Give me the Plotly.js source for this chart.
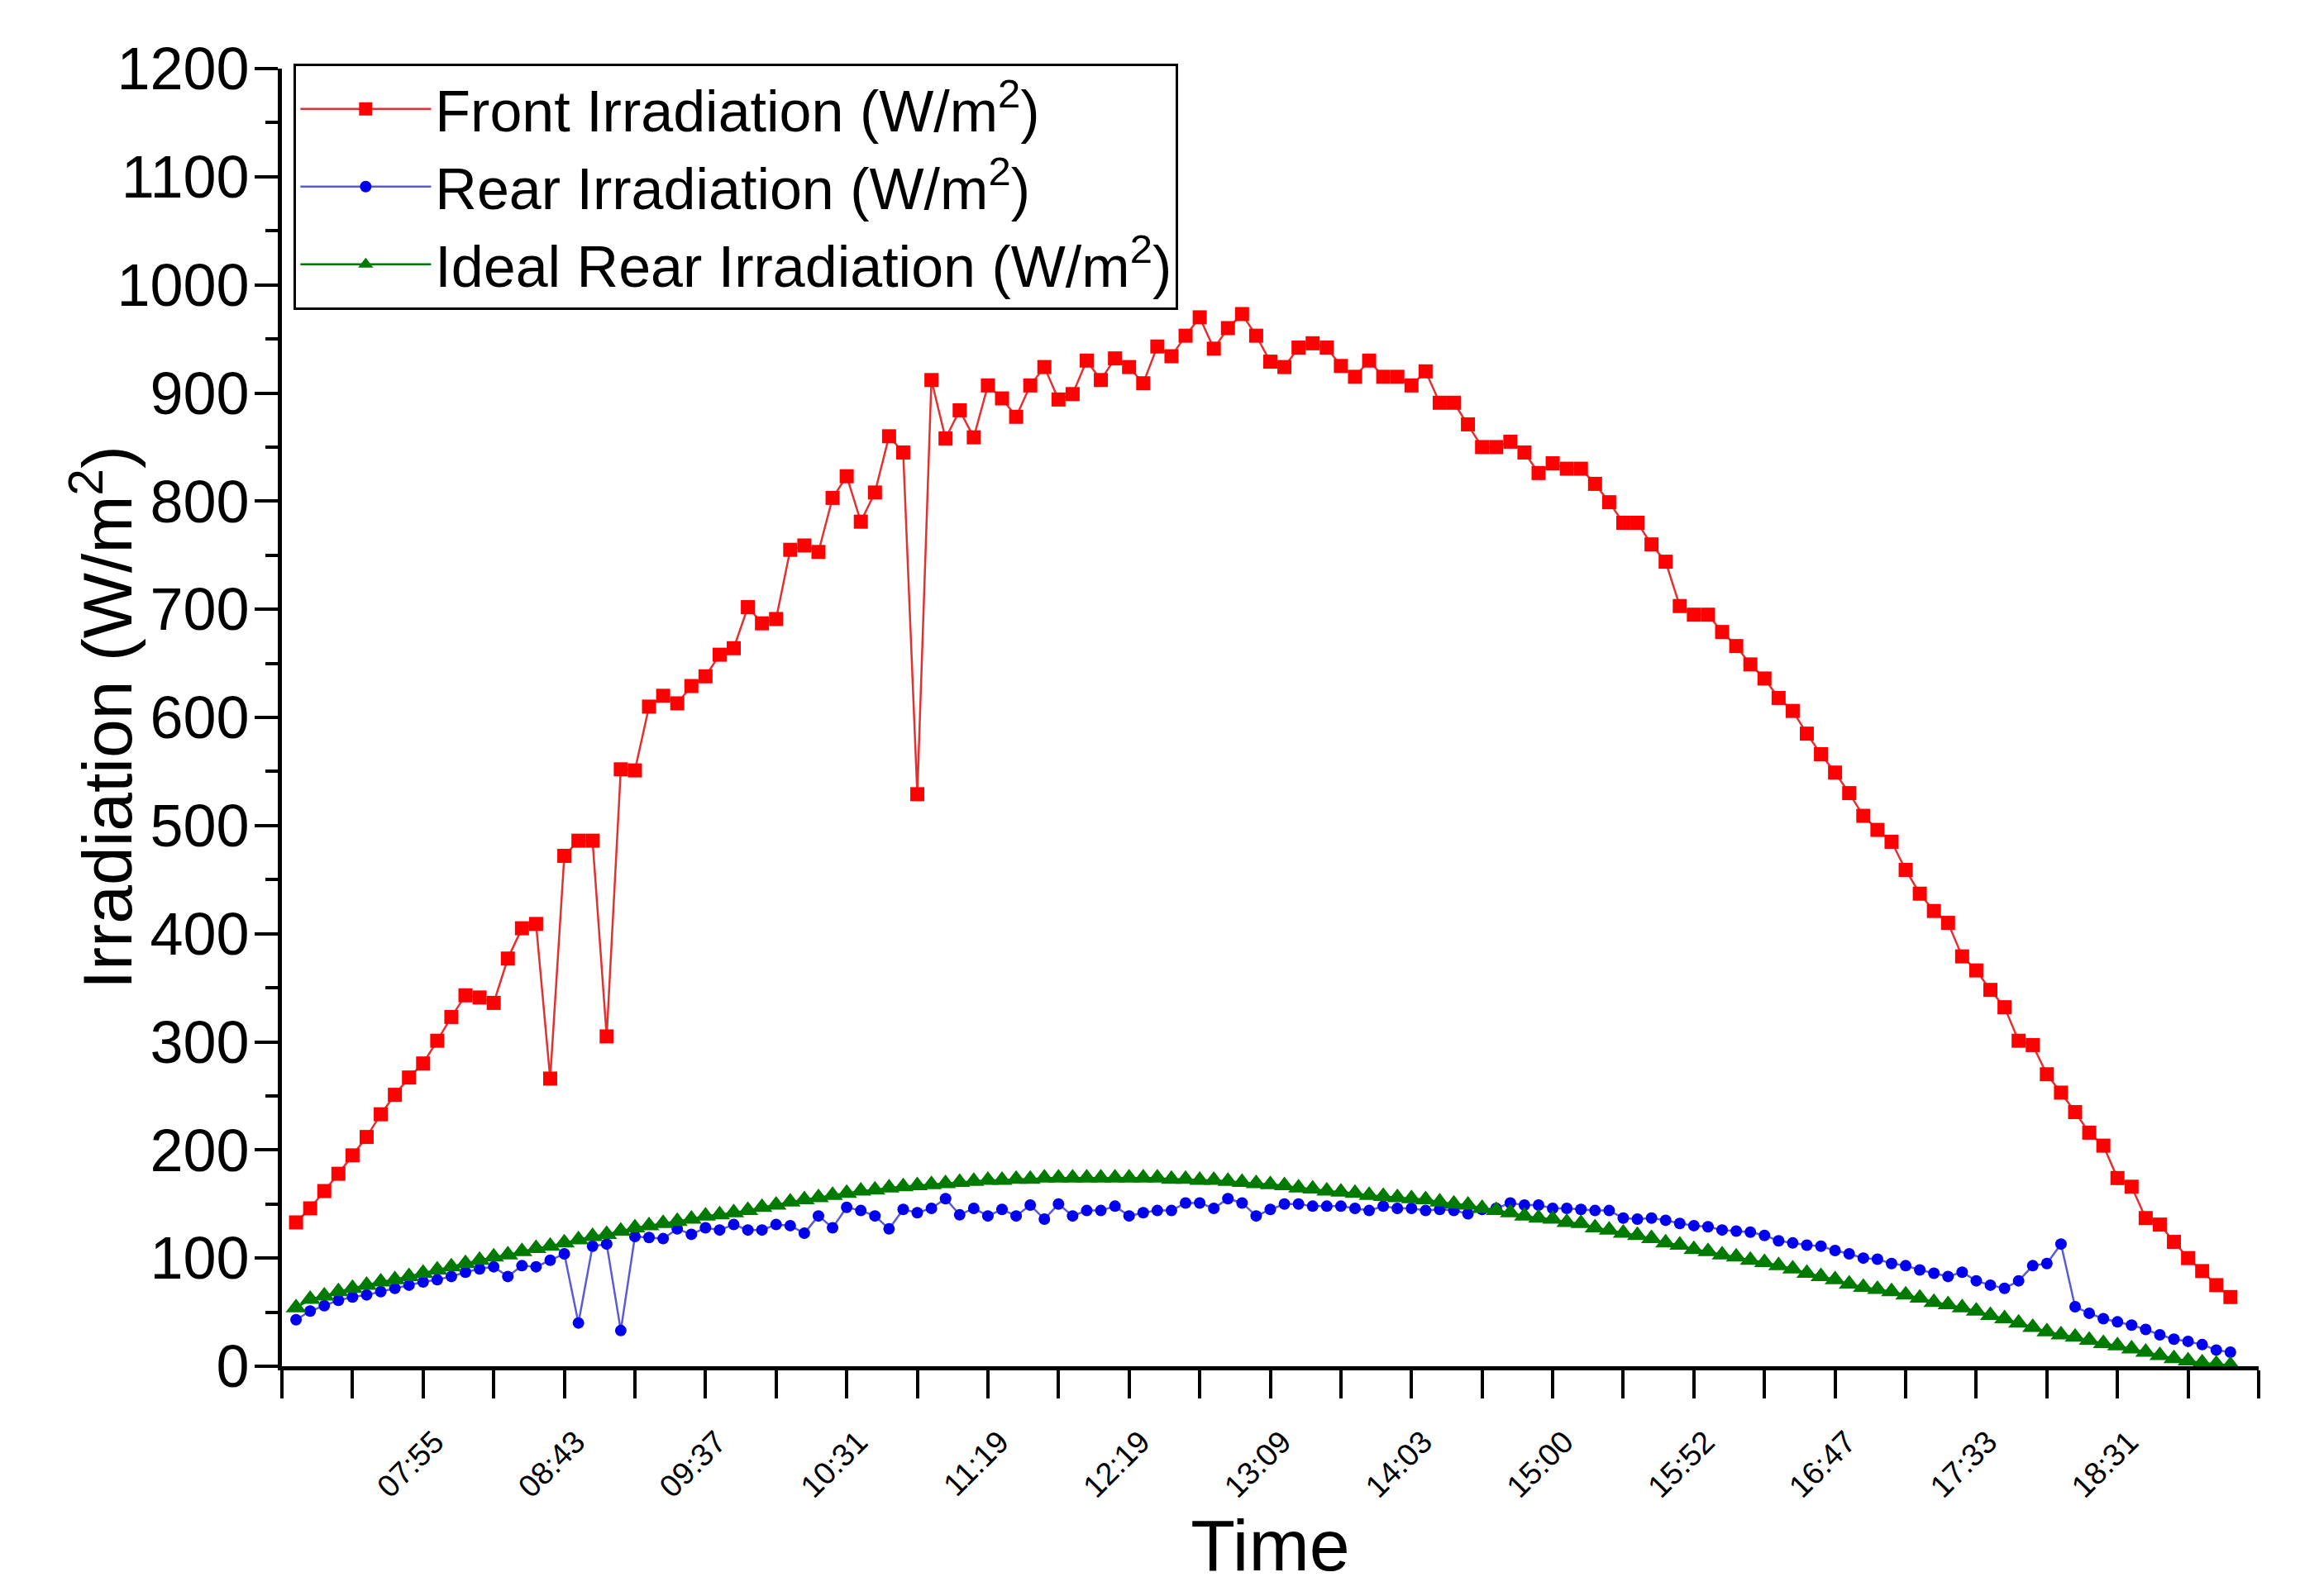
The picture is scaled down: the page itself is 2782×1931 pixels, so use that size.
<!DOCTYPE html>
<html>
<head>
<meta charset="utf-8">
<script src="https://cdn.plot.ly/plotly-3.0.1.min.js"></script>
<style>
  html, body { margin: 0; padding: 0; background: #fff; }
  #irrPlot { width: 2782px; height: 1931px; }
</style>
</head>
<body>
<div id="irrPlot"></div>
<script>
// values per sample (sample 1..138, ~5 min apart)
const frontIrr = [
  133, 146, 162, 178, 195, 212, 233, 251, 267, 280,
  301, 323, 343, 341, 336, 377, 405, 409, 266, 472,
  486, 486, 305, 552, 551, 610, 620, 613, 629, 638,
  658, 664, 702, 687, 691, 755, 759, 753, 803, 823,
  781, 808, 860, 845, 529, 912, 858, 884, 859, 907,
  895, 878, 907, 924, 894, 899, 930, 912, 932, 924,
  909, 943, 934, 953, 970, 941, 960, 973, 953, 929,
  924, 942, 946, 942, 925, 915, 930, 915, 915, 907,
  920, 891, 891, 871, 850, 850, 855, 845, 826, 835,
  830, 830, 816, 799, 780, 780, 760, 744, 703, 695,
  695, 679, 666, 649, 636, 618, 606, 585, 566, 549,
  530, 509, 496, 485, 459, 437, 421, 410, 379, 366,
  348, 332, 301, 297, 270, 253, 235, 216, 204, 174,
  166, 137, 131, 115, 100, 88, 75, 64
];

const rearIrr = [
  43, 51, 56, 61, 64, 66, 69, 72, 75, 78,
  80, 83, 87, 90, 92, 83, 93, 92, 98, 104,
  40, 111, 113, 33, 120, 119, 118, 127, 122, 128,
  126, 131, 126, 126, 131, 130, 123, 139, 128, 147,
  144, 139, 127, 145, 142, 146, 155, 140, 146, 139,
  145, 139, 149, 136, 150, 139, 144, 144, 148, 139,
  142, 144, 144, 151, 151, 146, 155, 151, 139, 145,
  150, 150, 148, 148, 148, 146, 144, 148, 146, 146,
  144, 145, 144, 141, 145, 146, 151, 149, 149, 146,
  146, 145, 144, 144, 137, 136, 137, 135, 132, 130,
  129, 126, 125, 124, 121, 116, 114, 112, 111, 107,
  104, 100, 99, 95, 93, 89, 86, 83, 87, 79,
  75, 72, 79, 93, 95, 113, 55, 49, 44, 41,
  38, 34, 29, 25, 23, 20, 15, 13
];

const idealRearIrr = [
  54, 62, 65, 69, 72, 75, 78, 80, 83, 86,
  89, 92, 95, 98, 101, 103, 106, 109, 111, 114,
  117, 120, 122, 125, 128, 130, 132, 134, 136, 139,
  140, 142, 144, 147, 149, 152, 154, 156, 158, 160,
  162, 163, 165, 166, 167, 168, 169, 170, 171, 172,
  172, 173, 173, 174, 174, 174, 174, 174, 174, 174,
  174, 174, 173, 173, 172, 172, 171, 170, 169, 168,
  167, 165, 164, 162, 161, 160, 158, 157, 156, 155,
  154, 152, 150, 149, 146, 144, 142, 139, 137, 136,
  133, 132, 128, 126, 123, 121, 118, 114, 112, 108,
  106, 103, 101, 98, 96, 93, 90, 86, 83, 80,
  76, 73, 71, 69, 66, 63, 59, 57, 54, 51,
  47, 44, 40, 36, 32, 29, 27, 24, 21, 19,
  16, 13, 10, 7, 5, 3, 2, 1
];

// time labels shown under every 10th sample
const timeTickIdx = [10, 20, 30, 40, 50, 60, 70, 80, 90, 100, 110, 120, 130];
const timeTickLabels = ["07:55", "08:43", "09:37", "10:31", "11:19", "12:19", "13:09",
  "14:03", "15:00", "15:52", "16:47", "17:33", "18:31"];

const sampleNo = frontIrr.map((v, k) => k + 1);

const fontFam = "Liberation Sans, Arial, sans-serif";

let traceFront = {
  type: "scatter",
  mode: "lines+markers",
  x: sampleNo,
  y: frontIrr,
  name: "Front Irradiation (W/m<sup>2</sup>)",
  line: { color: "rgb(225,50,50)", width: 2.5 },
  marker: { symbol: "square", size: 17, color: "#ff0000" },
};

let traceRear = {
  type: "scatter",
  mode: "lines+markers",
  x: sampleNo,
  y: rearIrr,
  name: "Rear Irradiation (W/m<sup>2</sup>)",
  line: { color: "rgb(90,90,215)", width: 2.5 },
  marker: { symbol: "circle", size: 14, color: "#0000ee" },
};

let traceIdeal = {
  type: "scatter",
  mode: "lines+markers",
  x: sampleNo,
  y: idealRearIrr,
  name: "Ideal Rear Irradiation (W/m<sup>2</sup>)",
  line: { color: "#007a00", width: 2.5 },
  marker: { symbol: "triangle-up", size: 22, color: "#007a00" },
};

let layout = {
  width: 2782,
  height: 1931,
  margin: { l: 341, r: 50, t: 83, b: 278, pad: 0 },
  paper_bgcolor: "#fff",
  plot_bgcolor: "#fff",
  font: { family: fontFam, color: "#000" },
  showlegend: true,
  legend: {
    x: 0.006,
    y: 1.004,
    xanchor: "left",
    yanchor: "top",
    bgcolor: "#fff",
    bordercolor: "#000",
    borderwidth: 3,
    itemwidth: 158,
    font: { family: fontFam, size: 70, color: "#000" },
  },
  xaxis: {
    range: [0, 140],
    showgrid: false,
    zeroline: false,
    showline: true,
    linecolor: "#000",
    linewidth: 5,
    ticks: "outside",
    ticklen: 34,
    tickwidth: 4,
    tickcolor: "#000",
    // labelled ticks every 10 samples, plain ticks every 5
    tickmode: "array",
    tickvals: timeTickIdx,
    ticktext: timeTickLabels,
    minor: { ticks: "outside", ticklen: 34, tickwidth: 4, tickcolor: "#000", tick0: 0, dtick: 5, showgrid: false },
    tickangle: -45,
    ticklabelstandoff: 15,
    ticklabelshift: 14,
    tickfont: { family: fontFam, size: 38, color: "#000" },
    title: { text: "Time", standoff: 0, font: { family: fontFam, size: 88, color: "#000" } },
  },
  yaxis: {
    range: [0, 1200],
    showgrid: false,
    zeroline: false,
    showline: true,
    linecolor: "#000",
    linewidth: 5,
    ticks: "outside",
    ticklen: 28,
    tickwidth: 4,
    tickcolor: "#000",
    tick0: 0,
    dtick: 100,
    minor: { ticks: "outside", ticklen: 15, tickwidth: 4, tickcolor: "#000", dtick: 50, showgrid: false },
    ticklabelstandoff: -8,
    tickfont: { family: fontFam, size: 72, color: "#000" },
    title: { text: "Irradiation (W/m<sup>2</sup>)", font: { family: fontFam, size: 84, color: "#000" } },
  },
};

let config = { displayModeBar: false, responsive: false };

Plotly.newPlot("irrPlot", [traceFront, traceRear, traceIdeal], layout, config);
</script>
</body>
</html>
